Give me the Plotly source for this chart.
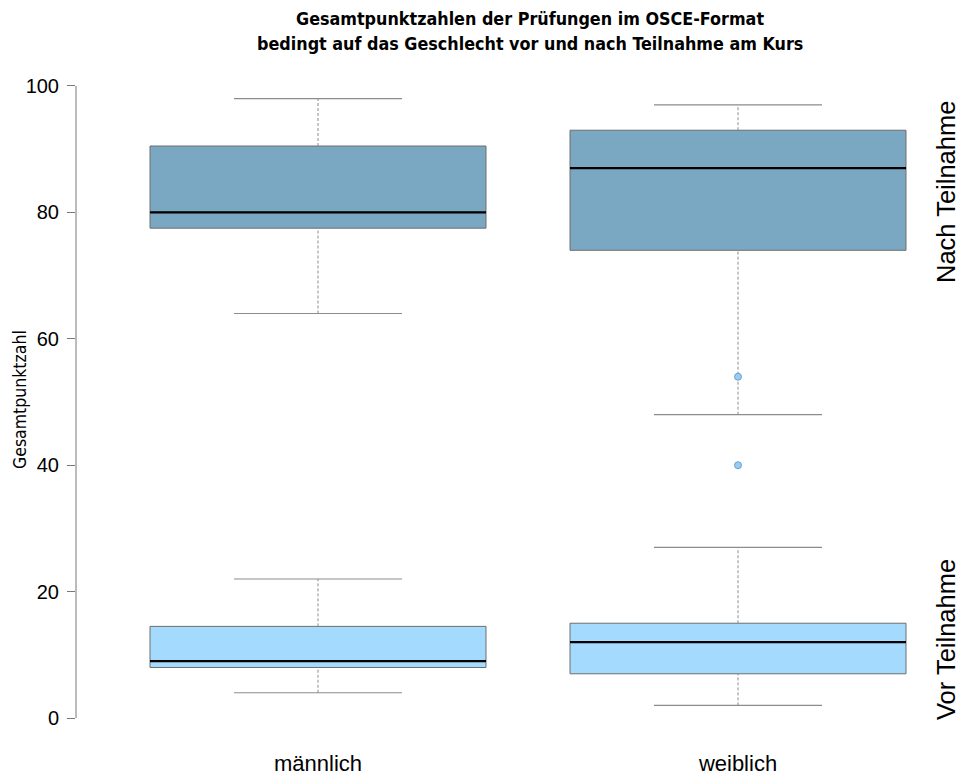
import plotly.graph_objects as go

# Groups and box statistics (total OSCE scores)
categories = ["männlich", "weiblich"]
positions = [1, 2]

pre_low = [4, 2]
pre_q1 = [8, 7]
pre_median = [9, 12]
pre_q3 = [14.5, 15]
pre_high = [22, 27]

post_low = [64, 48]
post_q1 = [77.5, 74]
post_median = [80, 87]
post_q3 = [90.5, 93]
post_high = [98, 97]

outlier_x = [2, 2]
outlier_y = [54, 40]

y_ticks = [0, 20, 40, 60, 80, 100]

PRE_FILL = "rgb(163,218,253)"
POST_FILL = "rgb(122,167,194)"
EDGE = "rgb(110,110,110)"
WHISK = "rgb(140,140,140)"
FONT = "Liberation Sans, Arial, sans-serif"
NARROW = "Liberation Sans Narrow, DejaVu Sans Condensed, Liberation Sans, sans-serif"

fig = go.Figure()


def add_group(low, q1, med, q3, high, fill):
    # dashed whisker stems
    xs, ys = [], []
    for p, lo, a, b, hi in zip(positions, low, q1, q3, high):
        xs += [p, p, None, p, p, None]
        ys += [lo, a, None, b, hi, None]
    fig.add_trace(go.Scatter(x=xs, y=ys, mode="lines",
                             line=dict(color=WHISK, width=1, dash="3px,2px"),
                             hoverinfo="skip", showlegend=False))
    # whisker caps
    xs, ys = [], []
    for p, lo, hi in zip(positions, low, high):
        xs += [p - 0.2, p + 0.2, None, p - 0.2, p + 0.2, None]
        ys += [lo, lo, None, hi, hi, None]
    fig.add_trace(go.Scatter(x=xs, y=ys, mode="lines",
                             line=dict(color=WHISK, width=1.2),
                             hoverinfo="skip", showlegend=False))
    # box body
    fig.add_trace(go.Box(x=positions, q1=q1, median=med, q3=q3,
                         lowerfence=q1, upperfence=q3, width=0.8,
                         whiskerwidth=0, fillcolor=fill,
                         line=dict(color=EDGE, width=1),
                         boxpoints=False, showlegend=False))
    # median line
    xs, ys = [], []
    for p, m in zip(positions, med):
        xs += [p - 0.4, p + 0.4, None]
        ys += [m, m, None]
    fig.add_trace(go.Scatter(x=xs, y=ys, mode="lines",
                             line=dict(color="black", width=2.2),
                             hoverinfo="skip", showlegend=False))


add_group(pre_low, pre_q1, pre_median, pre_q3, pre_high, PRE_FILL)
add_group(post_low, post_q1, post_median, post_q3, post_high, POST_FILL)

fig.add_trace(go.Scatter(x=outlier_x, y=outlier_y, mode="markers",
                         marker=dict(size=7, color="rgb(150,205,245)",
                                     line=dict(color="rgb(110,160,200)", width=1)),
                         hoverinfo="skip", showlegend=False))

W, H = 960, 776
L, R, T, B = 76, 12, 67, 39

fig.update_layout(
    width=W, height=H,
    margin=dict(l=L, r=R, t=T, b=B),
    paper_bgcolor="white", plot_bgcolor="white",
    font=dict(family=FONT, color="black"),
    boxmode="overlay",
    xaxis=dict(range=[0.4238, 2.5], showgrid=False, zeroline=False,
               showline=False, tickvals=positions, ticktext=categories,
               ticks="", tickfont=dict(size=22), ticklabelstandoff=11,
               automargin=False),
    yaxis=dict(range=[-3, 103], showgrid=False, zeroline=False,
               showline=False, tickvals=y_ticks, ticks="outside",
               ticklen=8, tickcolor="rgb(120,120,120)",
               tickfont=dict(size=20), ticklabelstandoff=4,
               automargin=False),
)

# y axis line spanning the tick range only
fig.add_shape(type="line", xref="paper", yref="y", x0=0, x1=0,
              y0=y_ticks[0], y1=y_ticks[-1],
              line=dict(color="rgb(120,120,120)", width=1))

plot_w = W - L - R


def px_to_paper_x(px):
    return (px - L) / plot_w


def px_to_paper_y(py):
    return (H - B - py) / (H - T - B)


def label(text, px, py, size, family, angle=0):
    fig.add_annotation(text=text, textangle=angle,
                       xref="paper", yref="paper",
                       x=px_to_paper_x(px), y=px_to_paper_y(py),
                       xanchor="center", yanchor="middle",
                       showarrow=False, font=dict(size=size, family=family))


label("<b>Gesamtpunktzahlen der Prüfungen im OSCE-Format</b>", 530, 18, 17.8, NARROW)
label("<b>bedingt auf das Geschlecht vor und nach Teilnahme am Kurs</b>", 530, 43, 17.8, NARROW)
label("Gesamtpunktzahl", 20, 400, 17.5, NARROW, -90)
label("Nach Teilnahme", 946, 192, 25.5, FONT, -90)
label("Vor Teilnahme", 946, 640, 25.5, FONT, -90)

fig.write_html("out.html")
